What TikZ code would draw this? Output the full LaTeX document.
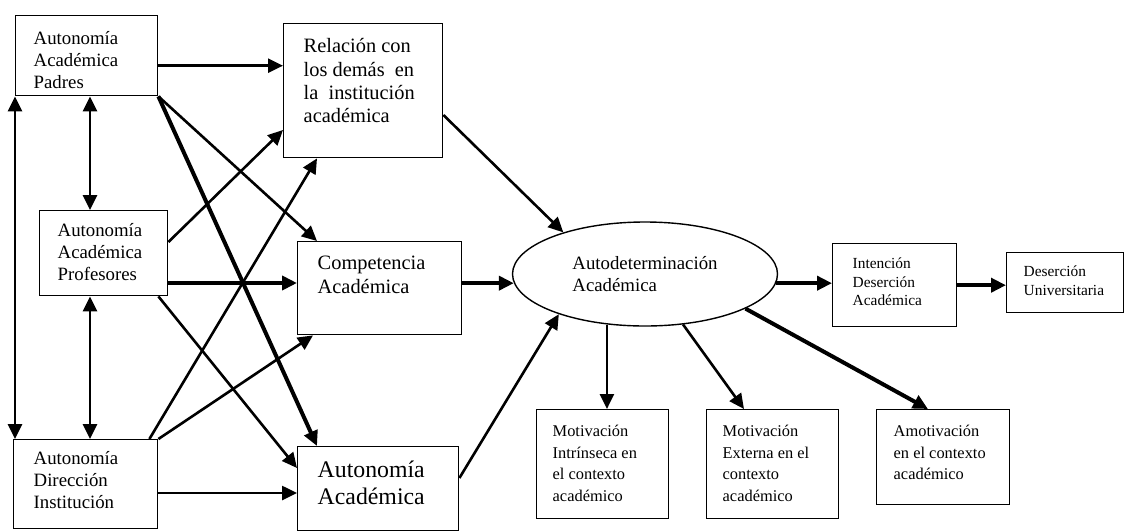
\documentclass[tikz,border=0pt]{standalone}
\usepackage{fontspec}
\setmainfont{Liberation Serif}
\usepackage{tikz}
\usetikzlibrary{shapes,arrows.meta,positioning}

% text block inside a box: width, height, left indent, first baseline, text
\newcommand{\inbox}[5]{\parbox[c][#2][t]{#1}{\raggedright\leftskip=#3\relax\rule{0pt}{#4}#5}}

\begin{document}
\begin{tikzpicture}[
    x=0.5pt, y=-0.5pt,
    box/.style={rectangle, draw, line width=0.7pt, fill=white, anchor=north west, inner sep=0pt},
    oval/.style={ellipse, draw, line width=0.7pt, fill=white, minimum width=132.5pt, minimum height=52pt, inner sep=0pt, align=left},
    arrow/.style={-{Triangle[length=7.5pt,width=7pt]}, line width=1.3pt},
    bigarrow/.style={arrow, line width=2pt},
    twoway/.style={{Triangle[length=7.5pt,width=7pt]}-{Triangle[length=7.5pt,width=7pt]}, line width=1.3pt},
    small/.style={font=\fontsize{7.7}{9.2}\selectfont},
    normal/.style={font=\fontsize{9.4}{11}\selectfont},
    medium/.style={font=\fontsize{8.2}{10.8}\selectfont},
    large/.style={font=\fontsize{10.2}{11.7}\selectfont},
    huge/.style={font=\fontsize{11.9}{13.4}\selectfont}
]
\useasboundingbox (0,0) rectangle (1124,531);

% Nodes
\node[box, normal] (pad) at (15,15) {\inbox{71pt}{40pt}{9pt}{14.5pt}{Autonomía\\Académica\\Padres}};
\node[box, normal] (prof) at (39,210) {\inbox{64pt}{42.5pt}{9pt}{13pt}{Autonomía\\Académica\\Profesores}};
\node[box, normal] (dir) at (13,439) {\inbox{72pt}{44.5pt}{10pt}{12.5pt}{Autonomía\\Dirección\\Institución}};
\node[box, large] (rel) at (283,23) {\inbox{79.5pt}{67pt}{10pt}{14.5pt}{Relación con\\los demás\ \ en\\la\ \ institución\\académica}};
\node[box, large] (comp) at (297,241) {\inbox{82pt}{46.5pt}{10pt}{14pt}{Competencia\\Académica}};
\node[box, huge] (aa) at (297,446) {\inbox{80.5pt}{42pt}{10pt}{15.5pt}{Autonomía\\Académica}};
\node[oval, normal] (ell) at (645,274) {Autodeterminación\\Académica};
\node[box, small] (int) at (832,243) {\inbox{62pt}{41.5pt}{10pt}{12.5pt}{Intención\\Deserción\\Académica}};
\node[box, small] (des) at (1006,252) {\inbox{58.5pt}{30pt}{8.5pt}{12pt}{Deserción\\Universitaria}};
\node[box, medium] (mi) at (536,409) {\inbox{66pt}{54.5pt}{8pt}{13.5pt}{Motivación\\Intrínseca en\\el contexto\\académico}};
\node[box, medium] (me) at (706,409) {\inbox{66pt}{54.5pt}{8pt}{13.5pt}{Motivación\\Externa en el\\contexto\\académico}};
\node[box, medium] (amo) at (876,409) {\inbox{66.5pt}{47.5pt}{8.5pt}{13.5pt}{Amotivación\\en el contexto\\académico}};

% Helper points
\coordinate (pup) at ([xshift=25.5pt]prof.north west);
\coordinate (pdn) at ([xshift=25.5pt]prof.south west);
\coordinate (padr) at ([yshift=-5pt]pad.east);
\coordinate (profr) at ([yshift=-36.5pt]prof.north east);
\coordinate (dirr) at ([yshift=-27pt]dir.north east);

% Arrows
\draw[twoway] (pad.south west) -- (pad.south west |- dir.north);
\draw[twoway] (pup |- pad.south) -- (pup);
\draw[twoway] (pdn) -- (pdn |- dir.north);

\draw[arrow] (padr) -- (padr -| rel.west);
\draw[arrow] ([yshift=-16pt]prof.north east) -- ([yshift=-53.5pt]rel.north west);
\draw[arrow] ([xshift=-4.5pt]dir.north east) -- ([xshift=17pt]rel.south west);

\draw[arrow] (pad.south east) -- ([xshift=10pt]comp.north west);
\draw[bigarrow] (profr) -- (profr -| comp.west);
\draw[arrow] (dir.north east) -- ([xshift=8pt]comp.south west);

\draw[bigarrow] (pad.south east) -- ([xshift=10pt]aa.north west);
\draw[arrow] ([xshift=-5pt]prof.south east) -- ([yshift=-11pt]aa.north west);
\draw[arrow] (dirr) -- (dirr -| aa.west);

\draw[arrow] ([yshift=-46pt]rel.north east) -- (ell.153);
\draw[bigarrow] (ell.184 -| comp.east) -- (ell.184);
\draw[arrow] ([yshift=-16pt]aa.north east) -- (ell.205);

\draw[bigarrow] (ell.356) -- (ell.356 -| int.west);
\draw[bigarrow] (int.east) -- (int.east -| des.west);
\draw[arrow] (ell.233) -- (ell.233 |- mi.north);
\draw[arrow] (ell.307) -- ([xshift=19pt]me.north west);
\draw[bigarrow] (ell.341) -- ([xshift=26pt]amo.north west);

\end{tikzpicture}
\end{document}
